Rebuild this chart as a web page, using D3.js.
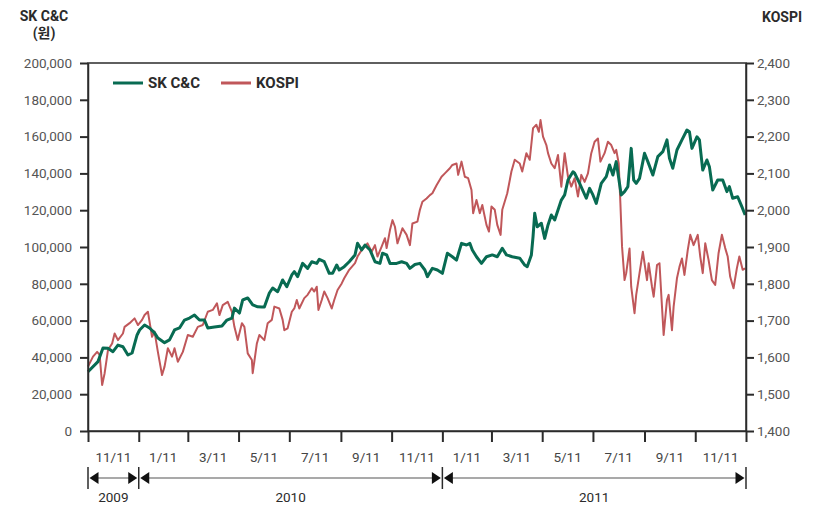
<!DOCTYPE html>
<html>
<head>
<meta charset="utf-8">
<script src="https://cdn.jsdelivr.net/npm/d3@7"></script>
<style>
  body { margin: 0; background: #fff; }
  svg { display: block; font-family: Roboto, "Noto Sans CJK KR", sans-serif; }
</style>
</head>
<body>
<svg id="chart" width="818" height="510"></svg>
<script>
const startDate = new Date(2009, 10, 1),
    endDate = new Date(2012, 0, 1);

// SK C&C share price (won)
const skccDates = [
    '2009-11-01', '2009-11-13', '2009-11-19', '2009-11-25', '2009-12-01', '2009-12-07', '2009-12-13', '2009-12-19', '2009-12-24', '2009-12-30',
    '2010-01-02', '2010-01-08', '2010-01-14', '2010-01-20', '2010-01-24', '2010-02-01', '2010-02-07', '2010-02-13', '2010-02-19', '2010-02-25',
    '2010-03-03', '2010-03-09', '2010-03-15', '2010-03-21', '2010-03-25', '2010-04-02', '2010-04-11', '2010-04-17', '2010-04-23', '2010-04-26',
    '2010-05-02', '2010-05-06', '2010-05-12', '2010-05-18', '2010-05-24', '2010-05-29', '2010-06-01', '2010-06-07', '2010-06-11', '2010-06-17',
    '2010-06-23', '2010-06-28', '2010-07-04', '2010-07-07', '2010-07-11', '2010-07-17', '2010-07-23', '2010-07-28', '2010-08-03', '2010-08-06',
    '2010-08-12', '2010-08-18', '2010-08-22', '2010-08-27', '2010-08-30', '2010-09-05', '2010-09-11', '2010-09-18', '2010-09-21', '2010-09-26',
    '2010-09-30', '2010-10-06', '2010-10-12', '2010-10-18', '2010-10-21', '2010-10-26', '2010-10-30', '2010-11-07', '2010-11-13', '2010-11-19',
    '2010-11-23', '2010-11-29', '2010-12-05', '2010-12-11', '2010-12-14', '2010-12-20', '2010-12-26', '2011-01-01', '2011-01-07', '2011-01-13',
    '2011-01-18', '2011-01-24', '2011-01-30', '2011-02-03', '2011-02-06', '2011-02-11', '2011-02-17', '2011-02-23', '2011-03-02', '2011-03-08',
    '2011-03-14', '2011-03-19', '2011-03-26', '2011-04-04', '2011-04-10', '2011-04-13', '2011-04-18', '2011-04-20', '2011-04-22', '2011-04-25',
    '2011-04-30', '2011-05-04', '2011-05-08', '2011-05-12', '2011-05-16', '2011-05-20', '2011-05-24', '2011-05-28', '2011-06-01', '2011-06-07',
    '2011-06-09', '2011-06-15', '2011-06-23', '2011-06-27', '2011-07-01', '2011-07-05', '2011-07-11', '2011-07-17', '2011-07-21', '2011-07-25',
    '2011-07-29', '2011-08-04', '2011-08-08', '2011-08-12', '2011-08-16', '2011-08-19', '2011-08-22', '2011-08-26', '2011-09-01', '2011-09-05',
    '2011-09-11', '2011-09-17', '2011-09-23', '2011-09-28', '2011-10-01', '2011-10-05', '2011-10-10', '2011-10-16', '2011-10-22', '2011-10-25',
    '2011-10-28', '2011-11-03', '2011-11-06', '2011-11-10', '2011-11-15', '2011-11-18', '2011-11-22', '2011-11-28', '2011-12-04', '2011-12-09',
    '2011-12-12', '2011-12-16', '2011-12-22', '2011-12-27', '2011-12-31'
];
const skccValues = [
    32200, 37700, 45100, 45000, 43100, 46700, 45800, 41300, 42400, 52200,
    54900, 57600, 56000, 53300, 50500, 48000, 49500, 54900, 56000, 60300,
    61400, 63000, 60300, 60300, 56000, 56500, 57100, 60300, 61400, 66800,
    64100, 71200, 72300, 68500, 67500, 67400, 67400, 75000, 77700, 75700,
    82100, 78400, 84800, 86600, 83900, 91100, 88400, 92000, 91100, 93300,
    92000, 85700, 85700, 90200, 87500, 89300, 92000, 95700, 102000, 98400,
    101100, 98400, 92000, 91100, 96600, 95700, 91100, 91100, 92000, 91100,
    88400, 90500, 91100, 87500, 83900, 88400, 87500, 85700, 96600, 94700,
    92900, 102000, 101100, 102000, 98400, 94700, 91100, 94700, 95700, 94700,
    99300, 95700, 94700, 93900, 90200, 89300, 95700, 105600, 118300, 111000,
    112900, 104700, 112000, 117400, 114700, 120100, 125500, 128300, 136400, 140900,
    140100, 134600, 126500, 131900, 128300, 123700, 134600, 138200, 144600, 139100,
    146400, 128300, 130100, 132800, 153600, 136400, 134600, 137300, 150900, 146400,
    139100, 149100, 151800, 158200, 148200, 142800, 152700, 158200, 163600, 162700,
    153600, 159900, 158200, 141800, 147300, 143600, 131000, 136400, 136400, 130100,
    132800, 126500, 127300, 121900, 117400
];

// KOSPI index
const kospiDates = [
    '2009-11-01', '2009-11-07', '2009-11-12', '2009-11-15', '2009-11-18', '2009-11-21', '2009-11-25', '2009-11-30', '2009-12-03', '2009-12-07',
    '2009-12-13', '2009-12-15', '2009-12-21', '2009-12-27', '2009-12-31', '2010-01-05', '2010-01-08', '2010-01-12', '2010-01-17', '2010-01-20',
    '2010-01-24', '2010-01-29', '2010-02-01', '2010-02-05', '2010-02-10', '2010-02-13', '2010-02-17', '2010-02-23', '2010-03-01', '2010-03-07',
    '2010-03-13', '2010-03-19', '2010-03-25', '2010-03-31', '2010-04-05', '2010-04-08', '2010-04-12', '2010-04-18', '2010-04-23', '2010-04-26',
    '2010-04-30', '2010-05-05', '2010-05-08', '2010-05-12', '2010-05-17', '2010-05-18', '2010-05-23', '2010-05-26', '2010-06-01', '2010-06-05',
    '2010-06-10', '2010-06-13', '2010-06-19', '2010-06-23', '2010-06-25', '2010-06-29', '2010-07-04', '2010-07-07', '2010-07-10', '2010-07-13',
    '2010-07-19', '2010-07-23', '2010-07-28', '2010-07-31', '2010-08-03', '2010-08-05', '2010-08-09', '2010-08-12', '2010-08-16', '2010-08-21',
    '2010-08-24', '2010-08-28', '2010-09-02', '2010-09-05', '2010-09-11', '2010-09-18', '2010-09-21', '2010-09-26', '2010-09-30', '2010-10-03',
    '2010-10-08', '2010-10-12', '2010-10-15', '2010-10-20', '2010-10-24', '2010-10-26', '2010-10-30', '2010-11-02', '2010-11-05', '2010-11-08',
    '2010-11-14', '2010-11-19', '2010-11-23', '2010-11-26', '2010-12-02', '2010-12-05', '2010-12-08', '2010-12-13', '2010-12-17', '2010-12-20',
    '2010-12-25', '2010-12-31', '2011-01-04', '2011-01-10', '2011-01-13', '2011-01-18', '2011-01-20', '2011-01-24', '2011-01-28', '2011-02-01',
    '2011-02-05', '2011-02-07', '2011-02-11', '2011-02-15', '2011-02-18', '2011-02-23', '2011-02-26', '2011-03-01', '2011-03-05', '2011-03-08',
    '2011-03-12', '2011-03-14', '2011-03-20', '2011-03-25', '2011-03-29', '2011-04-04', '2011-04-07', '2011-04-12', '2011-04-16', '2011-04-20',
    '2011-04-24', '2011-04-27', '2011-04-29', '2011-05-02', '2011-05-06', '2011-05-08', '2011-05-12', '2011-05-16', '2011-05-20', '2011-05-24',
    '2011-05-28', '2011-06-01', '2011-06-05', '2011-06-09', '2011-06-13', '2011-06-17', '2011-06-21', '2011-06-25', '2011-06-29', '2011-07-03',
    '2011-07-07', '2011-07-10', '2011-07-15', '2011-07-19', '2011-07-23', '2011-07-27', '2011-07-29', '2011-08-01', '2011-08-03', '2011-08-05',
    '2011-08-08', '2011-08-10', '2011-08-14', '2011-08-16', '2011-08-20', '2011-08-22', '2011-08-26', '2011-08-30', '2011-09-04', '2011-09-06',
    '2011-09-10', '2011-09-12', '2011-09-16', '2011-09-19', '2011-09-22', '2011-09-24', '2011-09-28', '2011-09-30', '2011-10-04', '2011-10-06',
    '2011-10-10', '2011-10-13', '2011-10-16', '2011-10-19', '2011-10-23', '2011-10-26', '2011-10-30', '2011-11-04', '2011-11-07', '2011-11-10',
    '2011-11-13', '2011-11-17', '2011-11-21', '2011-11-25', '2011-11-29', '2011-12-03', '2011-12-07', '2011-12-10', '2011-12-13', '2011-12-17',
    '2011-12-21', '2011-12-24', '2011-12-28', '2011-12-31'
];
const kospiValues = [
    1575, 1602, 1615, 1607, 1525, 1557, 1620, 1638, 1665, 1647,
    1665, 1683, 1693, 1706, 1688, 1702, 1715, 1724, 1656, 1670,
    1615, 1552, 1575, 1625, 1602, 1625, 1588, 1615, 1661, 1656,
    1683, 1688, 1724, 1729, 1747, 1715, 1742, 1751, 1724, 1683,
    1647, 1693, 1683, 1611, 1593, 1557, 1638, 1661, 1647, 1693,
    1702, 1738, 1733, 1702, 1674, 1679, 1724, 1733, 1756, 1733,
    1761, 1770, 1788, 1779, 1792, 1729, 1756, 1779, 1761, 1733,
    1756, 1783, 1801, 1815, 1838, 1856, 1874, 1892, 1901, 1910,
    1887, 1905, 1874, 1901, 1924, 1897, 1946, 1973, 1955, 1910,
    1951, 1933, 1905, 1964, 1969, 2001, 2023, 2032, 2041, 2046,
    2068, 2091, 2100, 2114, 2123, 2127, 2096, 2132, 2091, 2087,
    2055, 1992, 2028, 1992, 2014, 1960, 1942, 2010, 2001, 1960,
    1933, 2001, 2046, 2105, 2137, 2127, 2105, 2155, 2137, 2223,
    2232, 2213, 2245, 2200, 2177, 2155, 2127, 2114, 2150, 2064,
    2155, 2091, 2064, 2087, 2037, 2096, 2077, 2100, 2155, 2186,
    2195, 2132, 2155, 2186, 2177, 2155, 2164, 2127, 2019, 1901,
    1810, 1829, 1896, 1792, 1720, 1770, 1829, 1887, 1810, 1856,
    1792, 1765, 1851, 1856, 1738, 1661, 1756, 1770, 1674, 1738,
    1815, 1846, 1869, 1824, 1892, 1933, 1905, 1933, 1874, 1829,
    1910, 1865, 1810, 1797, 1883, 1933, 1897, 1874, 1819, 1788,
    1842, 1874, 1838, 1842
];

const monthLabels = ['11/11', '1/11', '3/11', '5/11', '7/11', '9/11', '11/11',
    '1/11', '3/11', '5/11', '7/11', '9/11', '11/11'];
const years = ['2009', '2010', '2011'];
const yearBounds = [new Date(2009, 10, 1), new Date(2010, 0, 1), new Date(2011, 0, 1), new Date(2012, 0, 1)];

const leftTicks = d3.range(0, 200001, 20000),
    rightTicks = d3.range(1400, 2401, 100);

const GREEN = '#086b52',
    RED = '#c0575a',
    INK = '#2b2b2b';

const svg = d3.select('#chart'),
    margin = {top: 63, right: 72, bottom: 79, left: 88},
    width = +svg.attr('width') - margin.left - margin.right,
    height = +svg.attr('height') - margin.top - margin.bottom,
    bottom = margin.top + height,
    right = margin.left + width;

const parseDate = d3.timeParse('%Y-%m-%d');
const skcc = skccDates.map((d, i) => ({date: parseDate(d), value: skccValues[i]})),
    kospi = kospiDates.map((d, i) => ({date: parseDate(d), value: kospiValues[i]}));

const x = d3.scaleTime().domain([startDate, endDate]).range([margin.left, right]),
    yL = d3.scaleLinear().domain([0, 200000]).range([bottom, margin.top]),
    yR = d3.scaleLinear().domain([1400, 2400]).range([bottom, margin.top]);

// lines
svg.append('path')
    .datum(kospi)
    .attr('fill', 'none')
    .attr('stroke', RED)
    .attr('stroke-width', 2)
    .attr('stroke-linejoin', 'round')
    .attr('d', d3.line().x(d => x(d.date)).y(d => yR(d.value)));

svg.append('path')
    .datum(skcc)
    .attr('fill', 'none')
    .attr('stroke', GREEN)
    .attr('stroke-width', 3)
    .attr('stroke-linejoin', 'round')
    .attr('d', d3.line().x(d => x(d.date)).y(d => yL(d.value)));

// frame
svg.append('rect')
    .attr('x', margin.left).attr('y', margin.top)
    .attr('width', width).attr('height', height)
    .attr('fill', 'none').attr('stroke', INK).attr('stroke-width', 1.5);

const gL = svg.append('g')
    .attr('transform', `translate(${margin.left},0)`)
    .call(d3.axisLeft(yL).tickValues(leftTicks).tickFormat(d3.format(',')).tickSize(8).tickSizeOuter(0).tickPadding(8));

const gR = svg.append('g')
    .attr('transform', `translate(${right},0)`)
    .call(d3.axisRight(yR).tickValues(rightTicks).tickFormat(d3.format(',')).tickSize(8).tickSizeOuter(0).tickPadding(3));

// ticks at every other month boundary, labels sit between them
const monthBounds = d3.timeMonth.every(2).range(startDate, d3.timeDay.offset(endDate, 1));
const gB = svg.append('g')
    .attr('transform', `translate(0,${bottom})`)
    .call(d3.axisBottom(x).tickValues(monthBounds).tickFormat('').tickSize(11).tickSizeOuter(0));

for(const g of [gL, gR, gB]) {
    g.select('.domain').attr('stroke', INK).attr('stroke-width', 1.5);
    g.selectAll('.tick line').attr('stroke', INK).attr('stroke-width', 2);
    g.selectAll('.tick text').attr('fill', '#555').style('font-size', '13.5px').style('font-family', 'Roboto');
}

svg.append('g').selectAll('text')
    .data(monthLabels)
    .join('text')
    .attr('x', (d, i) => (x(monthBounds[i]) + x(monthBounds[i + 1])) / 2)
    .attr('y', 457)
    .attr('dy', '0.35em')
    .attr('text-anchor', 'middle')
    .attr('fill', '#444')
    .style('font-size', '13.5px')
    .text(d => d);

// year spans with arrows
const arrowY = 478;
const yearG = svg.append('g');
yearG.selectAll('line.bar')
    .data(yearBounds)
    .join('line')
    .attr('class', 'bar')
    .attr('x1', d => x(d)).attr('x2', d => x(d))
    .attr('y1', 467).attr('y2', 489)
    .attr('stroke', INK).attr('stroke-width', 1.5);

years.forEach((yr, i) => {
    const x0 = x(yearBounds[i]) + 1.5,
        x1 = x(yearBounds[i + 1]) - 1.5;
    yearG.append('line')
        .attr('x1', x0 + 6).attr('x2', x1 - 6)
        .attr('y1', arrowY).attr('y2', arrowY)
        .attr('stroke', '#555').attr('stroke-width', 1.2);
    yearG.append('path')
        .attr('d', `M${x0},${arrowY}L${x0 + 9},${arrowY - 6}L${x0 + 9},${arrowY + 6}Z`)
        .attr('fill', '#111');
    yearG.append('path')
        .attr('d', `M${x1},${arrowY}L${x1 - 9},${arrowY - 6}L${x1 - 9},${arrowY + 6}Z`)
        .attr('fill', '#111');
    yearG.append('text')
        .attr('x', (x(yearBounds[i]) + x(yearBounds[i + 1])) / 2)
        .attr('y', 497)
        .attr('dy', '0.35em')
        .attr('text-anchor', 'middle')
        .attr('fill', INK)
        .style('font-size', '13.5px')
        .text(yr);
});

// axis titles
const titles = [
    {text: 'SK C&C', x: 44, y: 16},
    {text: '(원)', x: 44, y: 33},
    {text: 'KOSPI', x: 782, y: 17}
];
svg.append('g').selectAll('text')
    .data(titles)
    .join('text')
    .attr('x', d => d.x).attr('y', d => d.y).attr('dy', '0.35em')
    .attr('text-anchor', 'middle')
    .attr('fill', INK).style('font-size', '14px').style('font-weight', 700)
    .text(d => d.text);

// legend
const legend = [
    {name: 'SK C&C', color: GREEN, x: 113},
    {name: 'KOSPI', color: RED, x: 221}
];
const lg = svg.append('g').selectAll('g')
    .data(legend)
    .join('g')
    .attr('transform', d => `translate(${d.x},83)`);
lg.append('line')
    .attr('x1', 0).attr('x2', 30)
    .attr('stroke', d => d.color).attr('stroke-width', 3);
lg.append('text')
    .attr('x', 35).attr('dy', '0.35em')
    .attr('fill', INK).style('font-size', '15px').style('font-weight', 700)
    .text(d => d.name);
</script>
</body>
</html>
